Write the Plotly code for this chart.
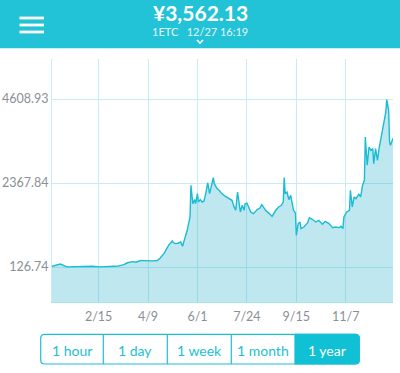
import pandas as pd
import plotly.graph_objects as go

# ---- data ----
start_date = "2016-12-27"
day_offsets = [0, 4, 9, 16, 23, 30, 37, 43, 52, 58, 66, 71, 77, 81, 86, 90, 95, 98, 103, 108,
               113, 116, 120, 121, 125, 129, 130, 132, 135, 138, 140, 142, 145, 148, 149, 151, 153, 154, 156, 157,
               159, 161, 163, 165, 167, 169, 171, 173, 174, 177, 180, 182, 186, 190, 193, 195, 197, 199, 200, 202,
               204, 206, 207, 209, 211, 213, 216, 220, 223, 225, 227, 229, 233, 236, 240, 243, 246, 248, 249, 250,
               252, 254, 256, 258, 259, 261, 262, 264, 266, 267, 270, 274, 276, 279, 283, 286, 290, 293, 297, 301,
               304, 308, 310, 312, 313, 316, 319, 320, 322, 324, 326, 329, 331, 333, 335, 336, 338, 340, 342, 344,
               345, 347, 349, 351, 353, 354, 356, 358, 359, 361, 362, 363, 365.68]
prices = [145, 170, 205, 130, 135, 145, 140, 148, 130, 128, 145, 150, 190, 240, 270, 255, 300, 297, 287, 290,
          300, 367, 484, 527, 705, 820, 780, 750, 760, 794, 680, 857, 1106, 1461, 2306, 1817, 1925, 1817, 2085, 1861,
          1925, 1861, 1888, 2100, 2368, 2085, 2279, 2512, 2350, 2217, 2154, 2085, 2013, 1951, 1906, 1750, 1640, 2128, 1951, 1594,
          1773, 1640, 1817, 1834, 1720, 1594, 1551, 1658, 1700, 1790, 1720, 1640, 1551, 1479, 1640, 1728, 1773, 1861, 2512, 2085,
          2128, 1925, 2040, 1773, 1640, 1568, 972, 1284, 1327, 1151, 1194, 1301, 1443, 1400, 1327, 1372, 1266, 1346, 1284, 1177,
          1194, 1177, 1212, 1151, 1461, 1594, 1640, 2173, 1728, 1995, 1951, 2066, 1995, 2306, 2440, 3595, 2840, 3328, 3240, 3285,
          2885, 3285, 2973, 3328, 3595, 3684, 3953, 4262, 4593, 4307, 3462, 3373, 3562.13]
tick_dates = ["2017-02-15", "2017-04-09", "2017-06-01", "2017-07-24", "2017-09-15", "2017-11-07"]
tick_labels = ["2/15", "4/9", "6/1", "7/24", "9/15", "11/7"]
y_ticks = [126.74, 2367.84, 4608.93]
y_range = [-807, 5676]
buttons = ["1 hour", "1 day", "1 week", "1 month", "1 year"]
price_text = "¥3,562.13"
sub_text = "1ETC\u00a0\u00a0 12/27 16:19"

dates = pd.Timestamp(start_date) + pd.to_timedelta(day_offsets, unit="D")

W, H = 400, 373
ML, MR, MT, MB = 52, 7, 59, 71
PW, PH = W - ML - MR, H - MT - MB


def px(x):
    return (x - ML) / PW


def py(y):
    return (H - MB - y) / PH


TEAL = "#22C3D6"
LINE = "#19BCD2"
FONT = "Lato, 'Noto Sans', sans-serif"

fig = go.Figure()
fig.add_trace(go.Scatter(x=dates, y=[y_range[0]] * len(dates), mode="lines",
                         line=dict(width=0), hoverinfo="skip", showlegend=False))
fig.add_trace(go.Scatter(x=dates, y=prices, mode="lines", fill="tonexty",
                         fillcolor="rgba(20,165,195,0.27)",
                         line=dict(color=LINE, width=1.4), showlegend=False))

shapes = []
# header bar
shapes.append(dict(type="rect", xref="paper", yref="paper", x0=px(-5), x1=px(405), y0=py(48.3), y1=py(-5),
                   fillcolor=TEAL, line=dict(width=0), layer="above"))
# hamburger
for yy in (18, 25, 32):
    shapes.append(dict(type="line", xref="paper", yref="paper", x0=px(19.5), x1=px(44), y0=py(yy), y1=py(yy),
                       line=dict(color="white", width=2.8), layer="above"))
# chevron
shapes.append(dict(type="path", xref="paper", yref="paper",
                   path=f"M{px(197)},{py(40)} L{px(200)},{py(43)} L{px(203)},{py(40)}",
                   line=dict(color="white", width=1.6), layer="above"))

# buttons
bx = [40.7, 103.3, 167.3, 231.3, 295, 359.3]
by0, by1 = 334.3, 364
r = 4


def rounded(x0, x1, y0, y1, rl, rr):
    pts = []
    pts.append(f"M{px(x0 + rl)},{py(y0)}")
    pts.append(f"L{px(x1 - rr)},{py(y0)}")
    if rr:
        pts.append(f"Q{px(x1)},{py(y0)} {px(x1)},{py(y0 + rr)}")
    pts.append(f"L{px(x1)},{py(y1 - rr)}")
    if rr:
        pts.append(f"Q{px(x1)},{py(y1)} {px(x1 - rr)},{py(y1)}")
    pts.append(f"L{px(x0 + rl)},{py(y1)}")
    if rl:
        pts.append(f"Q{px(x0)},{py(y1)} {px(x0)},{py(y1 - rl)}")
    pts.append(f"L{px(x0)},{py(y0 + rl)}")
    if rl:
        pts.append(f"Q{px(x0)},{py(y0)} {px(x0 + rl)},{py(y0)}")
    pts.append("Z")
    return " ".join(pts)


shapes.append(dict(type="path", xref="paper", yref="paper", path=rounded(bx[4], bx[5], by0, by1, 0, r),
                   fillcolor="#10C0D5", line=dict(color="#10C0D5", width=1.2), layer="above"))
shapes.append(dict(type="path", xref="paper", yref="paper", path=rounded(bx[0], bx[5], by0, by1, r, r),
                   fillcolor="rgba(0,0,0,0)", line=dict(color="#1DBFD4", width=1.2), layer="above"))
for xx in bx[1:4]:
    shapes.append(dict(type="line", xref="paper", yref="paper", x0=px(xx), x1=px(xx), y0=py(by0), y1=py(by1),
                       line=dict(color="#1DBFD4", width=1.2), layer="above"))

annotations = [
    dict(text=f"<b>{price_text}</b>", x=px(200), y=py(13), xref="paper", yref="paper", showarrow=False,
         font=dict(family=FONT, size=21, color="white"), xanchor="center", yanchor="middle"),
    dict(text=sub_text, x=px(200), y=py(31), xref="paper", yref="paper", showarrow=False,
         font=dict(family=FONT, size=11, color="#E2F7FA"), xanchor="center", yanchor="middle"),
]
for i, lab in enumerate(buttons):
    annotations.append(dict(text=lab, x=px((bx[i] + bx[i + 1]) / 2), y=py(350), xref="paper", yref="paper",
                            showarrow=False, xanchor="center", yanchor="middle",
                            font=dict(family=FONT, size=14, color="white" if i == 4 else "#1DBFD4")))

fig.update_layout(
    width=W, height=H, margin=dict(l=ML, r=MR, t=MT, b=MB, autoexpand=False),
    paper_bgcolor="white", plot_bgcolor="white",
    shapes=shapes, annotations=annotations, showlegend=False,
    xaxis=dict(type="date", range=[dates[0], dates[-1]], tickvals=tick_dates, ticktext=tick_labels,
               showgrid=True, gridcolor="#C4EEF4", gridwidth=1, zeroline=False, automargin=False,
               showline=True, linecolor="#A9E2EA", linewidth=1, ticks="", ticklabelstandoff=3,
               tickfont=dict(family=FONT, size=12.5, color="#8A8F96"), fixedrange=True),
    yaxis=dict(range=y_range, tickvals=y_ticks, ticktext=[f"{v:.2f}" for v in y_ticks],
               showgrid=True, gridcolor="#C4EEF4", gridwidth=1, zeroline=False, automargin=False,
               showline=True, linecolor="#C4EEF4", linewidth=1, ticks="",
               tickfont=dict(family=FONT, size=12.5, color="#8A8F96"), fixedrange=True),
)

fig.write_html("out.html", config={"displayModeBar": False})

# remove the browser's default page margin so the figure sits at (0, 0)
with open("out.html", "r", encoding="utf-8") as f:
    html = f.read()
html = html.replace("<head>", "<head><style>html,body{margin:0;padding:0;overflow:hidden;}</style>", 1)
with open("out.html", "w", encoding="utf-8") as f:
    f.write(html)
